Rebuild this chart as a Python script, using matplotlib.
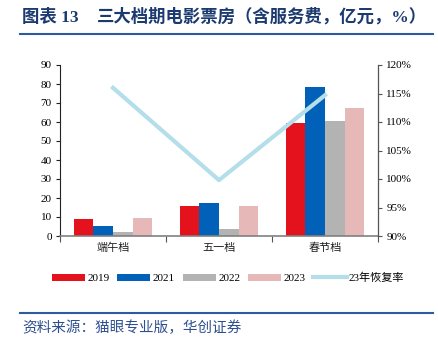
import matplotlib
matplotlib.use("Agg")
import matplotlib.pyplot as plt
import numpy as np
from matplotlib.ticker import FuncFormatter, MultipleLocator
from matplotlib.patches import Patch
from matplotlib.lines import Line2D

categories = ["端午档", "五一档", "春节档"]
series_names = ["2019", "2021", "2022", "2023"]
v2019 = [8.8, 15.9, 59.4]
v2021 = [5.4, 17.5, 78.3]
v2022 = [2.3, 3.9, 60.6]
v2023 = [9.6, 15.6, 67.6]
recovery = [1.16, 0.998, 1.147]
line_name = "23年恢复率"

colors = ["#E3121D", "#0161B9", "#B3B3B3", "#E6B8B8"]
line_color = "#B4DEE9"

FONT = ["Liberation Serif", "Noto Sans CJK SC"]
plt.rcParams["font.family"] = FONT

W, H = 439, 344
fig = plt.figure(figsize=(W / 100, H / 100), dpi=100)

def fx(px):
    return px / W

def fy(py):
    return 1 - py / H

ax = fig.add_axes([fx(60), fy(236), fx(378) - fx(60), fy(65) - fy(236)])
ax2 = ax.twinx()

x = np.arange(len(categories))
bw = 0.186
vals = [v2019, v2021, v2022, v2023]
for i, (v, c) in enumerate(zip(vals, colors)):
    ax.bar(x + (i - 1.5) * bw, v, width=bw, color=c, zorder=2)

ax.set_xlim(-0.5, 2.5)
ax.set_ylim(0, 90)
ax.yaxis.set_major_locator(MultipleLocator(10))
ax.set_xticks([-0.5, 0.5, 1.5, 2.5], minor=False)
ax.set_xticklabels([])
ax.set_xticks(x, minor=True)
ax.set_xticklabels(categories, minor=True, fontsize=8, family=["Noto Sans CJK SC"], color="#222222")
ax.tick_params(axis="x", which="major", length=4, direction="out", color="#555555")
ax.tick_params(axis="x", which="minor", length=0, pad=5)
ax.tick_params(axis="y", length=3, direction="out", labelsize=8, pad=3, color="#222222")

for s in ["top"]:
    ax.spines[s].set_visible(False)
    ax2.spines[s].set_visible(False)
ax.spines["left"].set_color("#222222")
ax.spines["bottom"].set_color("#808080")
ax.spines["bottom"].set_linewidth(1.2)
ax2.spines["right"].set_color("#555555")
ax2.spines["left"].set_visible(False)
ax2.spines["bottom"].set_visible(False)

ax2.plot(x, recovery, color=line_color, linewidth=3, zorder=3)
ax2.set_ylim(0.9, 1.2)
ax2.yaxis.set_major_locator(MultipleLocator(0.05))
ax2.yaxis.set_major_formatter(FuncFormatter(lambda v, p: f"{v*100:.0f}%"))
ax2.tick_params(axis="y", length=3, direction="out", labelsize=8, pad=3, color="#555555")

# Title
fig.text(fx(22), fy(17), "图表 13", fontsize=12.5, fontweight="bold", color="#1B3A6F",
         family=["Liberation Serif", "Noto Sans CJK SC"], va="center", ha="left")
fig.text(fx(97), fy(17), "三大档期电影票房（含服务费，亿元，%）",
         fontsize=12.5, fontweight="bold", color="#1B3A6F",
         family=["Liberation Serif", "Noto Sans CJK SC"], va="center", ha="left")
fig.add_artist(Line2D([fx(20), fx(433)], [fy(34), fy(34)], color="#2E5AA0", linewidth=1.5))

# Legend
handles = [Patch(facecolor=c, edgecolor="none") for c in colors]
handles.append(Line2D([0], [0], color=line_color, linewidth=3))
leg = fig.legend(handles, series_names + [line_name], loc="center",
                 bbox_to_anchor=(fx(228), fy(278)), ncol=5, frameon=False,
                 handlelength=3.0, handleheight=0.6,
                 handletextpad=0.2, columnspacing=0.7,
                 prop={"family": FONT, "size": 8})

# Bottom line and source
fig.add_artist(Line2D([fx(20), fx(433)], [fy(313), fy(313)], color="#2E5AA0", linewidth=1.5))
fig.text(fx(22), fy(328), "资料来源：猫眼专业版，华创证券", fontsize=10.5, style="italic",
         color="#2E4F8F", family=["Noto Sans CJK SC"], va="center", ha="left")

fig.savefig("out.png", dpi=100)
